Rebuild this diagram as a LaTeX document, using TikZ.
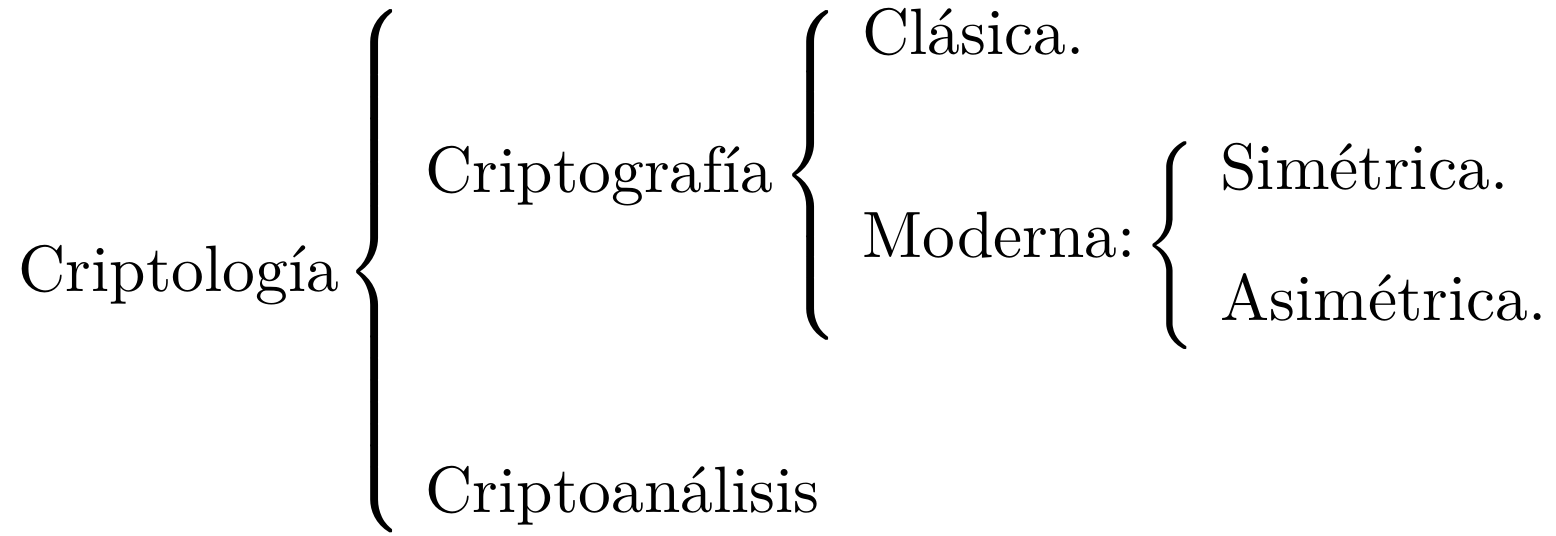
\documentclass[tikz,border=0pt]{standalone}
\usepackage{graphicx}
\delimiterfactor=1000
\delimitershortfall=0pt
\newcommand{\mybrace}[1]{\resizebox*{\width}{#1}{$\left\{\vcenter{\hrule height 0.9\dimexpr #1\relax width 0pt}\right.$}}
\tikzset{
  lbl/.style={anchor=base west, inner sep=0pt, font=\fontsize{10}{12}\selectfont},
  brc/.style={anchor=west, inner sep=0pt}
}
\begin{document}
\begin{tikzpicture}[x=0.1525pt, y=-0.1525pt]
\useasboundingbox (0,0) rectangle (1556,536);
\node[lbl] (cptl) at (17,292) {Criptología};
\node[brc] (b1) at (344,271.5) {\mybrace{79.8pt}};
\node[lbl] (cptg) at (424,193) {Criptografía};
\node[lbl] (cpta) at (424,513) {Criptoanálisis};
\node[brc] (b2) at (780,175) {\mybrace{50.3pt}};
\node[lbl] (clas) at (861,55) {Clásica.};
\node[lbl] (mod) at (861,258) {Moderna:};
\node[brc] (b3) at (1142,246) {\mybrace{31.7pt}};
\node[lbl] (sim) at (1219,190) {Simétrica.};
\node[lbl] (asim) at (1219,321) {Asimétrica.};
\end{tikzpicture}
\end{document}
